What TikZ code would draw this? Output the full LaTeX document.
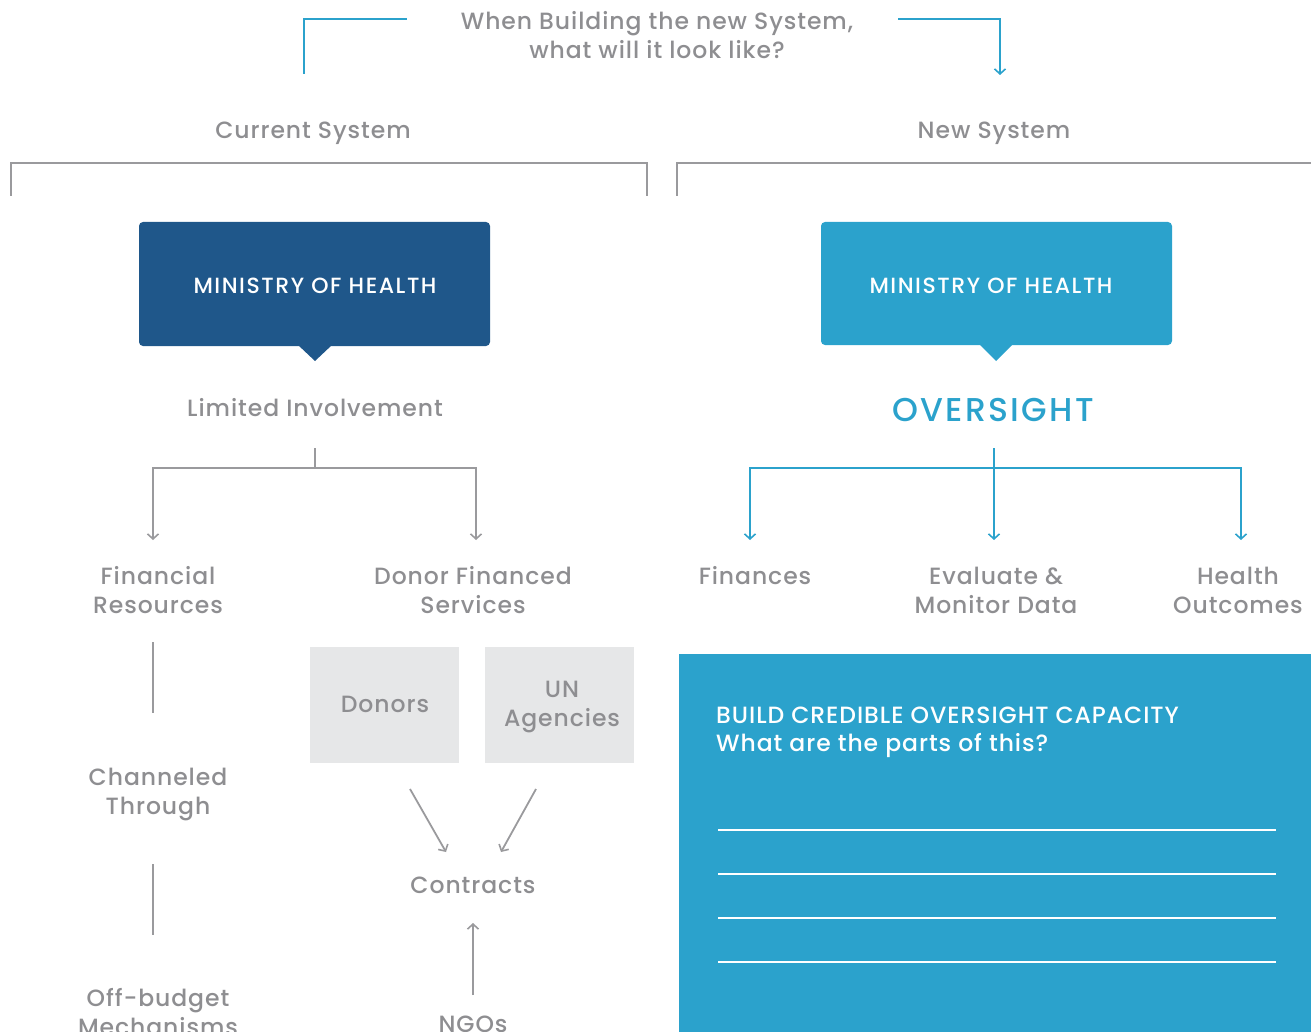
\documentclass[tikz,border=0pt]{standalone}
\usepackage{fontspec}
\setmainfont{Poppins}[UprightFont={* Medium}, LetterSpace=4]
\newfontfamily\widefont{Poppins}[UprightFont={* Medium}, LetterSpace=7]
\usetikzlibrary{arrows.meta}
\definecolor{txtgray}{HTML}{8E8E91}
\definecolor{linegray}{HTML}{9A9A9D}
\definecolor{mohdark}{HTML}{1F578A}
\definecolor{mohlight}{HTML}{2BA2CC}
\definecolor{boxgray}{HTML}{E6E7E8}
\tikzset{
  lbl/.style={text=txtgray, font=\fontsize{23.5}{29}\selectfont, align=center, inner sep=0pt},
  glink/.style={draw=linegray, line width=1.8pt},
  blink/.style={draw=mohlight, line width=1.8pt},
  tip/.style={-{Straight Barb[length=5pt,width=11pt,line width=1.6pt]}},
  mohtext/.style={text=white, font=\widefont\fontsize{22}{26}\selectfont, inner sep=0pt},
  greybox/.style={fill=boxgray, minimum width=149pt, minimum height=116pt, inner sep=0pt},
  rule/.style={draw=white, line width=1.5pt}
}
\begin{document}
\begin{tikzpicture}[x=1pt,y=-1pt]
\useasboundingbox (0,0) rectangle (1311,1032);
\clip (0,0) rectangle (1311,1032);

% heading and its two framing brackets
\node[lbl] (q) at (657,35) {When Building the new System,\\what will it look like?};
\coordinate (qlA) at (304,74);
\coordinate (qlB) at (407,19);
\coordinate (qrA) at (898,19);
\coordinate (qrB) at (1000,75);
\draw[blink] (qlA) |- (qlB);
\draw[blink, tip] (qrA) -| (qrB);

% column titles and brackets
\node[lbl] (cur) at (313,133) {Current System};
\node[lbl] (new) at (994,133) {New System};
\draw[glink] (11,196) -- (11,163) -- (647,163) -- (647,196);
\draw[glink] (677,196) -- (677,163) -- (1311,163);

% ministry boxes with pointer
\fill[mohdark, rounded corners=4pt] (139,222) rectangle (490,346);
\fill[mohdark] (298,345) -- (332,345) -- (315,361) -- cycle;
\node[mohtext] (mohA) at (315,286) {MINISTRY OF HEALTH};
\fill[mohlight, rounded corners=4pt] (821,222) rectangle (1172,345);
\fill[mohlight] (979,344) -- (1013,344) -- (996,361) -- cycle;
\node[mohtext] (mohB) at (991,286) {MINISTRY OF HEALTH};

\node[lbl] (lim) at (315,408) {Limited Involvement};
\node[text=mohlight, font=\widefont\fontsize{33}{40}\selectfont, inner sep=0pt] (ovs) at (993,410) {OVERSIGHT};

% current system tree
\coordinate (gtop) at (315,448);
\coordinate (gmid) at (315,468);
\coordinate (gl) at (153,468);
\coordinate (gr) at (476,468);
\coordinate (glEnd) at (153,540);
\coordinate (grEnd) at (476,540);
\draw[glink] (gtop) -- (gmid);
\draw[glink, tip] (gmid) -- (gl) -- (glEnd);
\draw[glink, tip] (gmid) -- (gr) -- (grEnd);

% new system tree
\coordinate (btop) at (994,448);
\coordinate (bmid) at (994,468);
\coordinate (bl) at (750,468);
\coordinate (br) at (1241,468);
\coordinate (bcEnd) at (994,540);
\coordinate (blEnd) at (750,540);
\coordinate (brEnd) at (1241,540);
\draw[blink, tip] (btop) -- (bcEnd);
\draw[blink, tip] (bmid) -- (bl) -- (blEnd);
\draw[blink, tip] (bmid) -- (br) -- (brEnd);

\node[lbl] (fin) at (158,590) {Financial\\Resources};
\node[lbl] (dfs) at (473,590) {Donor Financed\\Services};
\node[lbl] (fns) at (755,576) {Finances};
\node[lbl] (emd) at (996,590) {Evaluate \&\\Monitor Data};
\node[lbl] (hout) at (1238,590) {Health\\Outcomes};

% left chain
\node[lbl] (chan) at (158,794) {Channeled\\Through};
\node[lbl] (off) at (158,1012) {Off-budget\\Mechanisms};
\coordinate (c1a) at (153,642);
\coordinate (c1b) at (153,713);
\coordinate (c2a) at (153,864);
\coordinate (c2b) at (153,935);
\draw[glink] (c1a) -- (c1b);
\draw[glink] (c2a) -- (c2b);

% donors and agencies
\node[greybox] (don) at (384.5,705) {};
\node[greybox] (una) at (559.5,705) {};
\node[lbl] (donT) at (385,704) {Donors};
\node[lbl] (unaT) at (562,707) {UN\\Agencies};
\node[lbl] (con) at (473,885) {Contracts};
\node[lbl] (ngo) at (473,1024) {NGOs};
\coordinate (d1) at (410,789);
\coordinate (d1e) at (446,852);
\coordinate (d2) at (536,789);
\coordinate (d2e) at (501,852);
\coordinate (n1) at (473,995);
\coordinate (n1e) at (473,923);
\draw[glink, tip] (d1) -- (d1e);
\draw[glink, tip] (d2) -- (d2e);
\draw[glink, tip] (n1) -- (n1e);

% capacity panel
\fill[mohlight] (679,654) rectangle (1311,1032);
\node[text=white, font=\fontsize{23.5}{28}\selectfont, align=left, anchor=north west, inner sep=0pt] (cap) at (716,707) {BUILD CREDIBLE OVERSIGHT CAPACITY\\What are the parts of this?};
\foreach \yy in {830,874,918,962}
  \draw[rule] (718,\yy) -- (1276,\yy);
\end{tikzpicture}
\end{document}
